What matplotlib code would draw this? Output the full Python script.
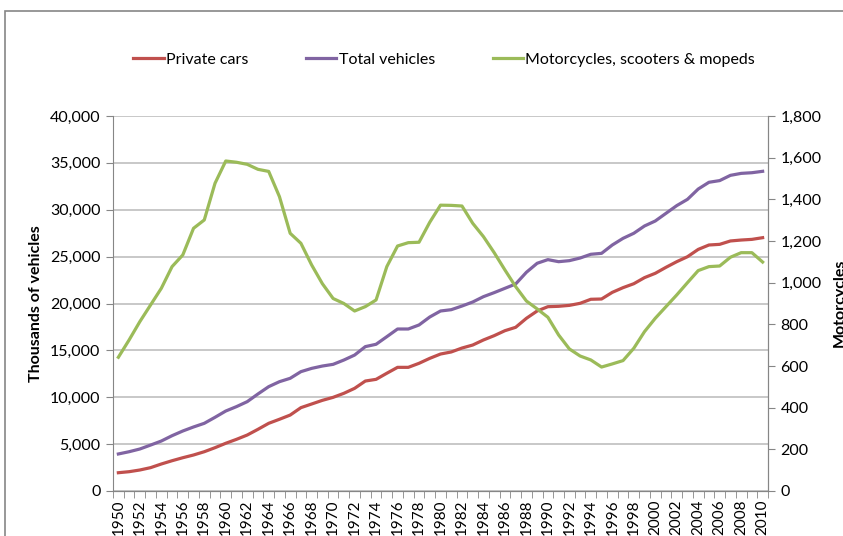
import matplotlib.pyplot as plt
import matplotlib.patches as patches
import numpy as np

plt.rcParams['font.family'] = ['Lato', 'DejaVu Sans']

years = list(range(1950, 2011))

# thousands of vehicles (left axis)
private_cars = [1950, 2060, 2240, 2490, 2880, 3230, 3550, 3840, 4190, 4620,
                5090, 5510, 5970, 6580, 7220, 7650, 8100, 8890, 9280, 9670,
                9990, 10420, 10950, 11730, 11910, 12560, 13190, 13190, 13620, 14150,
                14610, 14830, 15250, 15570, 16110, 16570, 17100, 17460, 18420, 19200,
                19660, 19700, 19800, 20020, 20450, 20480, 21190, 21690, 22110, 22760,
                23220, 23860, 24460, 24990, 25770, 26240, 26310, 26670, 26770, 26840,
                27020]
total_vehicles = [3950, 4190, 4480, 4900, 5330, 5900, 6400, 6830, 7220, 7860,
                  8530, 9000, 9530, 10350, 11130, 11660, 12020, 12730, 13080, 13330,
                  13510, 13970, 14500, 15400, 15650, 16460, 17280, 17280, 17710, 18560,
                  19200, 19340, 19730, 20160, 20730, 21160, 21620, 22080, 23330, 24290,
                  24680, 24460, 24570, 24850, 25250, 25350, 26240, 26950, 27490, 28270,
                  28800, 29620, 30440, 31110, 32210, 32930, 33110, 33670, 33880, 33950,
                  34100]
# motorcycles, scooters & mopeds (right axis)
motorcycles = [642, 725, 813, 893, 973, 1077, 1133, 1261, 1301, 1477,
               1584, 1578, 1568, 1544, 1534, 1413, 1237, 1189, 1085, 995,
               924, 900, 864, 885, 917, 1077, 1176, 1192, 1194, 1290,
               1372, 1371, 1368, 1285, 1221, 1144, 1061, 981, 912, 874,
               834, 749, 682, 648, 629, 595, 610, 626, 685, 765,
               829, 885, 941, 1000, 1058, 1077, 1080, 1122, 1144, 1144,
               1099]

red = '#C0504D'
purple = '#8064A2'
green = '#9BBB59'
axis_grey = '#868686'
grid_grey = '#BFBFBF'

fig = plt.figure(figsize=(8.43, 5.36), dpi=100)
ax = fig.add_axes([113/843, 1 - 491/536, (768 - 113)/843, (491 - 116)/536])
ax2 = ax.twinx()

l1, = ax.plot(years, private_cars, color=red, lw=2.3, label='Private cars')
l2, = ax.plot(years, total_vehicles, color=purple, lw=2.3, label='Total vehicles')
l3, = ax2.plot(years, motorcycles, color=green, lw=2.3,
               label='Motorcycles, scooters & mopeds')

ax.set_xlim(1949.5, 2010.5)
ax.set_ylim(0, 40000)
ax2.set_ylim(0, 1800)
ax.set_yticks(np.arange(0, 40001, 5000))
ax.set_yticklabels([f'{v:,}' for v in range(0, 40001, 5000)])
ax2.set_yticks(np.arange(0, 1801, 200))
ax2.set_yticklabels([f'{v:,}' for v in range(0, 1801, 200)])

ax.set_xticks(years[::2])
ax.set_xticklabels([str(y) for y in years[::2]], rotation=90)
ax.set_xticks(np.arange(1949.5, 2011, 1), minor=True)
ax.tick_params(axis='x', which='major', length=0, pad=6, labelsize=11)
ax.tick_params(axis='x', which='minor', length=5, color=axis_grey)
ax.tick_params(axis='y', length=5, color=axis_grey, labelsize=11.5, pad=4)
ax2.tick_params(axis='y', length=5, color=axis_grey, labelsize=11.5, pad=4)

ax.grid(axis='y', color=grid_grey, lw=1.2)
ax.set_axisbelow(True)
for a in (ax, ax2):
    a.spines['top'].set_visible(False)
    for s in ('left', 'right', 'bottom'):
        a.spines[s].set_color(axis_grey)
ax2.spines['left'].set_visible(False)

ax.set_ylabel('Thousands of vehicles', fontsize=11.5, fontweight='bold')
ax.yaxis.set_label_coords(-0.107, 0.5)
fig.text(833/843, 1 - 303/536, 'Motorcycles', rotation=90, ha='left', va='center',
         fontsize=11.5, fontweight='bold')

fig.legend(handles=[l1, l2, l3], loc='center', bbox_to_anchor=(0.527, 1 - 60/536),
           ncol=3, frameon=False, fontsize=11.5, handlelength=1.9,
           handletextpad=0.15, columnspacing=3.6)

fig.patches.append(patches.Rectangle((5/843, -0.1), 1.2, 1 - 11/536 + 0.1,
                                     transform=fig.transFigure, fill=False,
                                     edgecolor=axis_grey, lw=1.2))

fig.savefig('out.png', dpi=100)
